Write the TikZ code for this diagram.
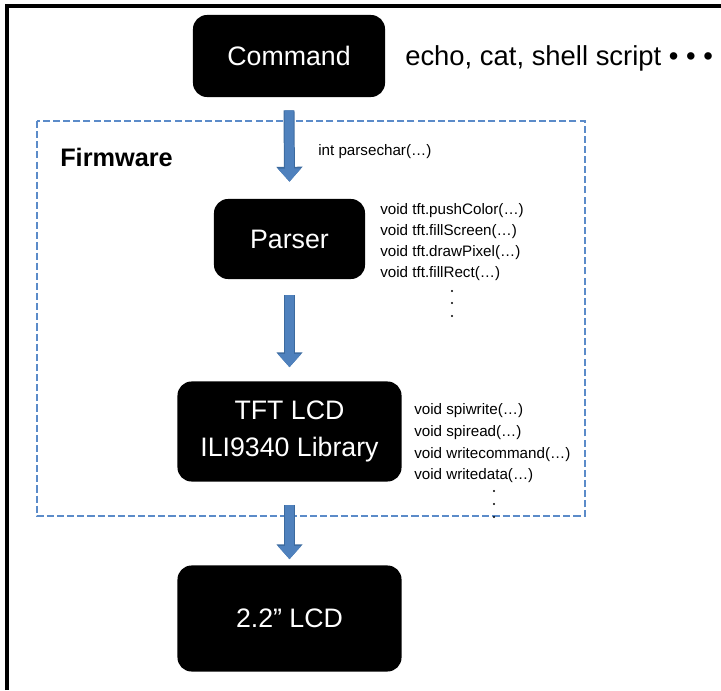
\documentclass[tikz,border=0pt]{standalone}
\usepackage{fontspec}
\setmainfont{Liberation Sans}
\usetikzlibrary{positioning, calc, arrows.meta}
\definecolor{fwblue}{HTML}{5B8BC9}
\definecolor{arrowblue}{HTML}{4F81BD}
\definecolor{arrowdark}{HTML}{3C6A9E}
\tikzset{
blk/.style={fill=black, text=white, rounded corners=10pt, align=center, font=\fontsize{19}{28}\selectfont},
flow/.style={draw=arrowblue, line width=6.4pt, -{Triangle[width=16pt,length=9.4pt]},
  preaction={draw=arrowdark, line width=7.8pt, -{Triangle[width=18pt,length=10.6pt]}}},
fwframe/.style={draw=fwblue, line width=1.4pt, dash pattern=on 5pt off 2.2pt},
func/.style={anchor=west, inner sep=0, font=\fontsize{10.8}{13}\selectfont},
dot/.style={circle, fill=black, inner sep=0, minimum size=1.6pt},
}

\begin{document}
\begin{tikzpicture}[x=0.025cm, y=-0.025cm]
    \useasboundingbox (0,0) rectangle (721,690);
    % page frame
    \draw[line width=2.2pt] (7,690) -- (7,6) -- (721,6);

    % firmware frame
    \draw[fwframe] (37,121) rectangle (585,516);
    \node[anchor=west, inner sep=0, font=\fontsize{18}{22}\selectfont\bfseries] (fw) at (60,157) {Firmware};

    % boxes
    \node[blk, minimum width=4.8cm, minimum height=2.05cm] (cmd) at (289,56) {Command};
    \node[blk, minimum width=3.775cm, minimum height=2cm]    (parser) at (289.5,239) {Parser};
    \node[blk, minimum width=5.6cm, minimum height=2.5cm, font=\fontsize{19}{26.5}\selectfont] (tft) at (289.5,431.5) {TFT LCD\\ILI9340 Library};
    \node[blk, minimum width=5.6cm, minimum height=2.65cm]    (lcd) at (289.5,618.5) {2.2” LCD};

    \node[anchor=west, inner sep=0, font=\fontsize{19.5}{24}\selectfont] (tools) at (405,58) {echo, cat, shell script • • •};
    \node[func] (pchar) at (318,152) {int parsechar(…)};

    % parser calls
    \node[func] (pf1) at (380,211) {void tft.pushColor(…)};
    \node[func] (pf2) at (380,232) {void tft.fillScreen(…)};
    \node[func] (pf3) at (380,253) {void tft.drawPixel(…)};
    \node[func] (pf4) at (380,274) {void tft.fillRect(…)};
    \node[dot] (pd1) at (452,291) {};
    \node[dot] (pd2) at (452,303) {};
    \node[dot] (pd3) at (452,316) {};

    % library calls
    \node[func] (lf1) at (414,411) {void spiwrite(…)};
    \node[func] (lf2) at (414,433) {void spiread(…)};
    \node[func] (lf3) at (414,455) {void writecommand(…)};
    \node[func] (lf4) at (414,476) {void writedata(…)};
    \node[dot] (ld1) at (494,491) {};
    \node[dot] (ld2) at (494,504) {};
    \node[dot] (ld3) at (494,517) {};

    % arrows
    \draw[flow] ($(cmd.south)+(0,13)$) -- ($(parser.north)+(0,-17)$);
    \draw[flow] ($(parser.south)+(0,16)$) -- ($(tft.north)+(0,-14)$);
    \draw[flow] ($(tft.south)+(0,23)$) -- ($(lcd.north)+(0,-6)$);
\end{tikzpicture}
\end{document}
